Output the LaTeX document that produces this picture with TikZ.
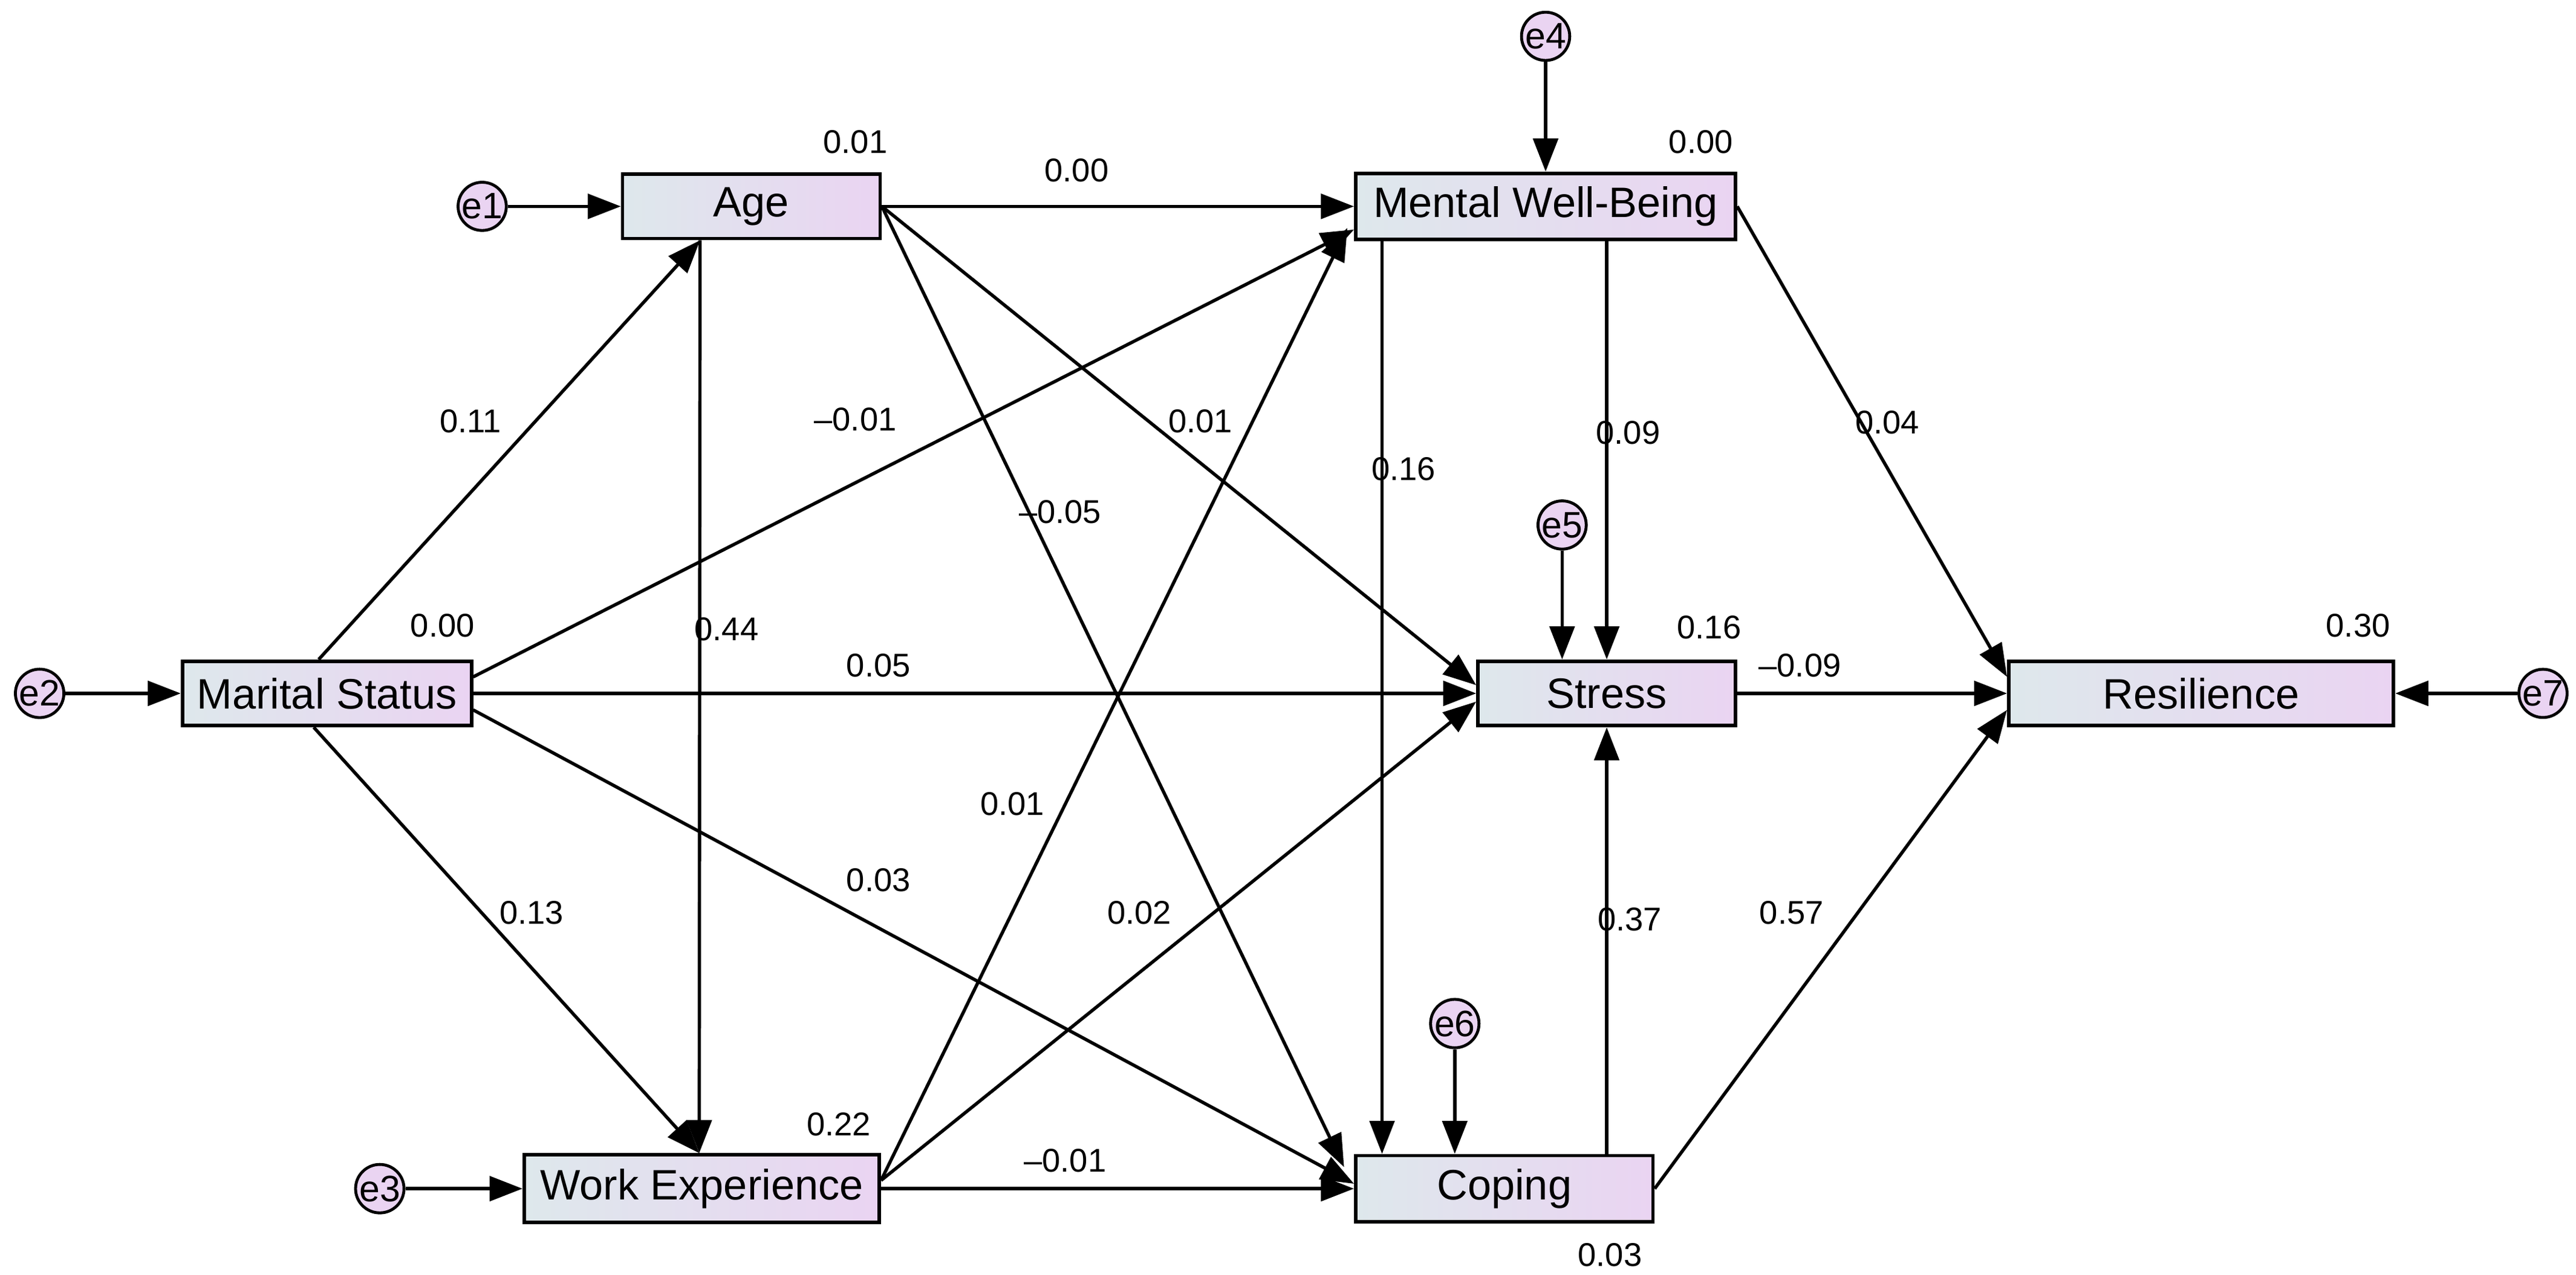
\documentclass[tikz,border=0pt]{standalone}
\usepackage{fontspec}
\setmainfont{Liberation Sans}
\usetikzlibrary{arrows.meta,calc}
\definecolor{bl}{RGB}{222,232,236}
\definecolor{lv}{RGB}{234,212,242}
\begin{document}
\begin{tikzpicture}[x=0.03cm,y=-0.03cm,
 box/.style={draw,line width=1.8pt,left color=bl,right color=lv,font=\fontsize{22}{24}\selectfont,inner sep=0pt},
 err/.style={circle,draw,line width=1.5pt,fill=lv,minimum size=22*0.03cm,inner sep=0pt,font=\fontsize{19}{20}\selectfont},
 ar/.style={line width=1.7pt,-{Triangle[length=0.6cm,width=0.45cm]}},
 lab/.style={font=\fontsize{17}{19}\selectfont}]
\useasboundingbox (0,0) rectangle (1560,772);
\node[box,minimum width=156*0.03cm,minimum height=39*0.03cm] (age) at (455,125) {Age};
\node[box,minimum width=230*0.03cm,minimum height=40*0.03cm] (mwb) at (936,125) {Mental Well-Being};
\node[box,minimum width=175*0.03cm,minimum height=39*0.03cm] (mar) at (198,420) {Marital Status};
\node[box,minimum width=156*0.03cm,minimum height=39*0.03cm] (st) at (973,420) {Stress};
\node[box,minimum width=233*0.03cm,minimum height=39*0.03cm] (res) at (1333,420) {Resilience};
\node[box,minimum width=215*0.03cm,minimum height=41*0.03cm] (work) at (425,720) {Work Experience};
\node[box,minimum width=180*0.03cm,minimum height=40*0.03cm] (cop) at (911,720) {Coping};
\node[err] (e1) at (292,125) {e1};
\node[err] (e2) at (24,420) {e2};
\node[err] (e3) at (230,720) {e3};
\node[err] (e4) at (936,22) {e4};
\node[err] (e5) at (946,318) {e5};
\node[err] (e6) at (881,620) {e6};
\node[err] (e7) at (1540,420) {e7};
\draw[ar] (e1) -- (age.west);
\draw[ar] (e2) -- (mar.west);
\draw[ar] (e3) -- (work.west);
\draw[ar] (e7) -- (res.east);
\draw[ar] (e4) -- (mwb.north);
\draw[ar] (e5) -- (e5 |- st.north);
\draw[ar] (e6) -- (e6 |- cop.north);
\draw[ar] ($(mar.north)+(-5,0)$) -- ($(age.south west)+(48,0)$);
\draw[ar] ($(age.south west)+(48,0)$) -- ($(work.north west)+(107,0)$);
\draw[ar] ($(mar.south)+(-8,0)$) -- ($(work.north west)+(107,0)$);
\draw[ar] ($(mar.east)+(0,-10)$) -- ($(mwb.south west)+(0,-7)$);
\draw[ar] (mar.east) -- (st.west);
\draw[ar] ($(mar.east)+(0,10)$) -- ($(cop.west)+(0,-3)$);
\draw[ar] (age.east) -- (mwb.west);
\draw[ar] (age.east) -- ($(st.west)+(0,-5)$);
\draw[ar] (age.east) -- ($(cop.north west)+(-6,8)$);
\draw[ar] ($(work.east)+(0,-5)$) -- ($(mwb.south west)+(-4,-8)$);
\draw[ar] ($(work.east)+(0,-5)$) -- ($(st.west)+(0,5)$);
\draw[ar] (work.east) -- (cop.west);
\draw[ar] ($(mwb.south west)+(17,0)$) -- ($(cop.north west)+(17,0)$);
\draw[ar] (mwb.south -| st.north) -- (st.north);
\draw[ar] (mwb.east) -- ($(res.west)+(0,-10)$);
\draw[ar] (st.east) -- (res.west);
\draw[ar] (cop.north -| st.south) -- (st.south);
\draw[ar] (cop.east) -- ($(res.west)+(0,10)$);
\node[lab] (l1) at (285,255) {0.11};
\node[lab] (l2) at (440,381) {0.44};
\node[lab] (l3) at (322,553) {0.13};
\node[lab] (l4) at (518,254) {\textendash0.01};
\node[lab] (l5) at (532,403) {0.05};
\node[lab] (l6) at (532,533) {0.03};
\node[lab] (l7) at (652,103) {0.00};
\node[lab] (l8) at (727,255) {0.01};
\node[lab] (l9) at (642,310) {\textendash0.05};
\node[lab] (l10) at (613,487) {0.01};
\node[lab] (l11) at (690,553) {0.02};
\node[lab] (l12) at (645,703) {\textendash0.01};
\node[lab] (l13) at (850,284) {0.16};
\node[lab] (l14) at (986,262) {0.09};
\node[lab] (l15) at (1143,256) {0.04};
\node[lab] (l16) at (1090,403) {\textendash0.09};
\node[lab] (l17) at (987,557) {0.37};
\node[lab] (l18) at (1085,553) {0.57};
\node[lab] (r1) at (518,86) {0.01};
\node[lab] (r2) at (1030,86) {0.00};
\node[lab] (r3) at (268,379) {0.00};
\node[lab] (r4) at (1035,380) {0.16};
\node[lab] (r5) at (1428,379) {0.30};
\node[lab] (r6) at (508,681) {0.22};
\node[lab] (r7) at (975,760) {0.03};
\end{tikzpicture}
\end{document}
